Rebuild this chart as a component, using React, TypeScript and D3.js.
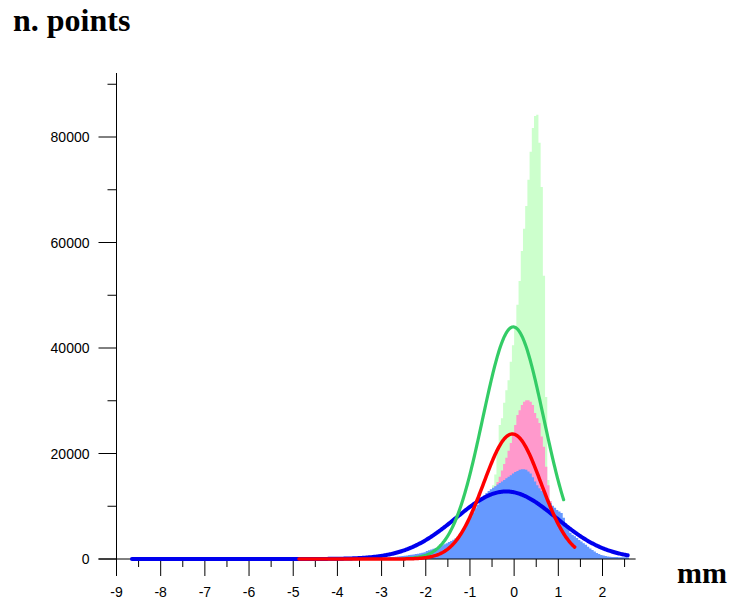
import React from 'react';
import * as d3 from 'd3';

const W = 731;
const H = 602;

// Axis ticks
const xTickValues = [-9, -8, -7, -6, -5, -4, -3, -2, -1, 0, 1, 2];
const xTickLabels = ['-9', '-8', '-7', '-6', '-5', '-4', '-3', '-2', '-1', '0', '1', '2'];
const xMinorTickValues = [-8.5, -7.5, -6.5, -5.5, -4.5, -3.5, -2.5, -1.5, -0.5, 0.5, 1.5, 2.5];
const yTickValues = [0, 20000, 40000, 60000, 80000];
const yTickLabels = ['0', '20000', '40000', '60000', '80000'];
const yMinorTickValues = [10000, 30000, 50000, 70000, 90000];

const yTitle = 'n. points';
const xTitle = 'mm';

// Histograms (bin width in mm, first bin edge, counts per bin)
const binWidth = 0.05;

const greenStart = -2.5;
const greenCounts = [
  190, 240, 300, 370, 450, 550, 660, 780, 900, 1050,
  1200, 1350, 1500, 1650, 1800, 1900, 2000, 2200, 2400, 2600,
  2900, 3200, 3600, 4000, 4400, 4900, 5400, 6000, 6600, 7300,
  8000, 8700, 9400, 10000, 10600, 11200, 11700, 12200, 12700, 13200,
  14000, 16000, 21000, 25400, 26700, 29600, 32000, 33900, 37400, 40500,
  44000, 48200, 52700, 58400, 62600, 66900, 71900, 77200, 81700, 84000,
  84200, 78900, 70500, 53700, 30700, 15000, 8000, 3500, 1500, 800,
  400, 200,
];

const pinkStart = -2.5;
const pinkCounts = [
  100, 120, 140, 160, 190, 220, 250, 290, 330, 380,
  430, 490, 560, 640, 730, 830, 940, 1060, 1200, 1350,
  1550, 1750, 2000, 2300, 2600, 3000, 3500, 4000, 4600, 5300,
  6000, 6700, 7400, 8100, 8800, 9500, 10200, 10900, 11600, 12300,
  13000, 13800, 14600, 15600, 16800, 18000, 19200, 20500, 22000, 23500,
  25400, 27300, 28200, 29200, 29800, 30100, 30100, 29800, 29200, 27700,
  26700, 25800, 23200, 21300, 17500, 14000, 11000, 8500, 6500, 5000,
  4000, 3200, 2500, 1900, 1500, 1100, 800, 600, 400, 250,
];

const blueStart = -4.0;
const blueCounts = [
  20, 25, 30, 35, 40, 45, 50, 55, 60, 70,
  80, 90, 100, 110, 120, 135, 150, 170, 190, 210,
  240, 270, 300, 330, 360, 400, 440, 480, 520, 570,
  620, 680, 740, 800, 870, 940, 1010, 1090, 1170, 1260,
  1500, 1650, 1800, 1950, 2100, 2250, 2400, 2600, 2800, 3000,
  3200, 3400, 3650, 3900, 4200, 4600, 5100, 5700, 6400, 7200,
  8000, 8800, 9600, 10300, 11000, 11600, 12100, 12500, 12900, 13200,
  13500, 13800, 14100, 14400, 14700, 15000, 15300, 15600, 15900, 16200,
  16500, 16700, 16900, 17000, 17000, 16900, 16600, 16200, 15500, 14700,
  14000, 13400, 12900, 12400, 12000, 11300, 10600, 10100, 9700, 9300,
  9000, 8700, 7800, 6800, 5900, 5000, 4600, 4300, 4000, 3600,
  3300, 3000, 2700, 2300, 2000, 1700, 1400, 1150, 950, 760,
  650, 560, 480, 430, 400, 380, 360, 350, 340, 330,
  320, 300,
];

// Gaussian fits: green, red, blue
const fitAmplitude = [44000, 23700, 12800];
const fitMean = [-0.02, -0.04, -0.18];
const fitSigma = [0.69, 0.65, 1.14];
const fitFrom = [-2.5, -4.87, -8.65];
const fitTo = [1.12, 1.37, 2.57];

const histColors = ['#ccffcc', '#ff99cc', '#6699ff'];
const fitColors = ['#33cc66', '#ff0000', '#0000ee'];
const fitWidths = [3.2, 3.5, 4];

export default function App() {
  const x = d3.scaleLinear().domain([-9, 2]).range([116.5, 602.5]);
  const y = d3.scaleLinear().domain([0, 80000]).range([559, 137]);

  const histPath = (start: number, counts: number[]) => {
    const pts = counts.map((v, i) => ({ x: start + i * binWidth, v }));
    pts.push({ x: start + counts.length * binWidth, v: 0 });
    const area = d3
      .area<{ x: number; v: number }>()
      .x((d) => x(d.x))
      .y0(y(0))
      .y1((d) => y(d.v))
      .curve(d3.curveStepAfter);
    return area(pts) || '';
  };

  const fitPath = (k: number) => {
    const n = Math.ceil((fitTo[k] - fitFrom[k]) / 0.02);
    const pts: [number, number][] = [];
    for (let i = 0; i <= n; i++) {
      const xv = Math.min(fitFrom[k] + i * 0.02, fitTo[k]);
      const d = (xv - fitMean[k]) / fitSigma[k];
      pts.push([xv, fitAmplitude[k] * Math.exp(-0.5 * d * d)]);
    }
    const line = d3
      .line<[number, number]>()
      .x((d) => x(d[0]))
      .y((d) => y(d[1]))
      .curve(d3.curveLinear);
    return line(pts) || '';
  };

  const hists = [
    { start: greenStart, counts: greenCounts },
    { start: pinkStart, counts: pinkCounts },
    { start: blueStart, counts: blueCounts },
  ];

  const axisColor = '#000';
  const font = "'Liberation Sans', Arial, Helvetica, sans-serif";
  const serif = "'Liberation Serif', 'Times New Roman', Times, serif";
  const x0 = x(-9);
  const yBase = y(0);

  return (
    <svg
      width={W}
      height={H}
      viewBox={`0 0 ${W} ${H}`}
      style={{ position: 'absolute', left: 0, top: 0, background: '#fff' }}
    >
      <rect x={0} y={0} width={W} height={H} fill="#fff" />
      {hists.map((h, i) => (
        <path key={'h' + i} d={histPath(h.start, h.counts)} fill={histColors[i]} stroke="none" />
      ))}

      {/* Y axis */}
      <line x1={x0} x2={x0} y1={73} y2={yBase} stroke={axisColor} strokeWidth={1} />
      {yTickValues.map((v, i) => (
        <g key={'yt' + i}>
          <line x1={x0 - 18} x2={x0} y1={y(v)} y2={y(v)} stroke={axisColor} strokeWidth={1} />
          <text
            x={89.5}
            y={y(v)}
            dy="0.36em"
            textAnchor="end"
            fontFamily={font}
            fontSize={14}
            fill="#000"
          >
            {yTickLabels[i]}
          </text>
        </g>
      ))}
      {yMinorTickValues.map((v, i) => (
        <line key={'ym' + i} x1={x0 - 9} x2={x0} y1={y(v)} y2={y(v)} stroke={axisColor} strokeWidth={1} />
      ))}

      {/* X axis */}
      <line x1={x0 - 18} x2={x(2.75)} y1={yBase} y2={yBase} stroke={axisColor} strokeWidth={1} />
      {xTickValues.map((v, i) => (
        <g key={'xt' + i}>
          <line x1={x(v)} x2={x(v)} y1={yBase} y2={yBase + 17} stroke={axisColor} strokeWidth={1} />
          <text
            x={x(v)}
            y={597}
            textAnchor="middle"
            fontFamily={font}
            fontSize={14}
            fill="#000"
          >
            {xTickLabels[i]}
          </text>
        </g>
      ))}
      {xMinorTickValues.map((v, i) => (
        <line key={'xm' + i} x1={x(v)} x2={x(v)} y1={yBase} y2={yBase + 8} stroke={axisColor} strokeWidth={1} />
      ))}

      {/* Fit curves: blue, green, red */}
      {[2, 0, 1].map((k) => (
        <path
          key={'f' + k}
          d={fitPath(k)}
          fill="none"
          stroke={fitColors[k]}
          strokeWidth={fitWidths[k]}
          strokeLinecap="round"
          strokeLinejoin="round"
        />
      ))}

      <text x={13} y={31} fontFamily={serif} fontWeight="bold" fontSize={32} fill="#000">
        {yTitle}
      </text>
      <text x={677} y={583} fontFamily={serif} fontWeight="bold" fontSize={30} fill="#000">
        {xTitle}
      </text>
    </svg>
  );
}
